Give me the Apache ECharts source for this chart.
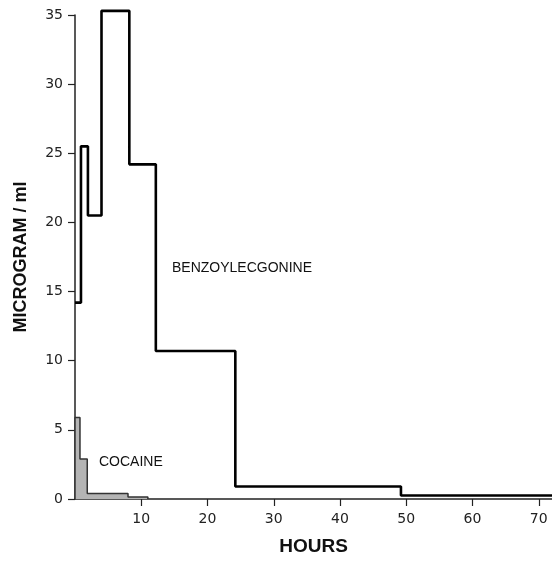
<!DOCTYPE html>
<html>
<head>
<meta charset="utf-8">
<script src="https://cdn.jsdelivr.net/npm/echarts@6/dist/echarts.min.js"></script>
<style>
  html, body { margin: 0; padding: 0; background: #fff; }
  #chart { width: 552px; height: 561px; }
</style>
</head>
<body>
<div id="chart"></div>
<script>
// step edges (hours) and levels (microgram/ml)
var benzoEdges = [0, 0.9, 1.95, 4.0, 8.2, 12.2, 24.2, 49.2, 72]
var benzoValues = [14.2, 25.5, 20.5, 35.3, 24.2, 10.7, 0.9, 0.25]
var cocaineEdges = [0, 0.75, 1.85, 8.0, 11.0]
var cocaineValues = [5.9, 2.9, 0.4, 0.15]
var xTicks = [10, 20, 30, 40, 50, 60, 70]
var yTicks = [0, 5, 10, 15, 20, 25, 30, 35]

function stepPoints(edges, values) {
  var pts = []
  for (var i = 0; i < values.length; i++) {
    pts.push([edges[i], values[i]])
    pts.push([edges[i + 1], values[i]])
  }
  pts.push([edges[edges.length - 1], 0])
  pts.unshift([0, 0])
  return pts
}

var chart = echarts.init(document.getElementById('chart'))
var tickFont = 'DejaVu Sans'
var nameFont = 'Liberation Sans'

chart.setOption({
  animation: false,
  grid: {
    left: 75,
    right: 0,
    top: 15,
    bottom: 61
  },
  xAxis: {
    type: 'value',
    min: 0,
    max: 72,
    interval: 10,
    name: 'HOURS',
    nameLocation: 'middle',
    nameGap: 38,
    nameTextStyle: {
      color: '#111',
      fontFamily: nameFont,
      fontWeight: 'bold',
      fontSize: 19
    },
    splitLine: { show: false },
    axisLine: { lineStyle: { color: '#222', width: 1.5 } },
    axisTick: {
      inside: false,
      length: 7,
      lineStyle: { color: '#222', width: 1.2 },
      customValues: xTicks
    },
    axisLabel: {
      color: '#222',
      fontFamily: tickFont,
      fontSize: 14,
      margin: 13,
      customValues: xTicks
    }
  },
  yAxis: {
    type: 'value',
    min: 0,
    max: 35,
    interval: 5,
    name: 'MICROGRAM / ml',
    nameLocation: 'middle',
    nameGap: 45,
    nameRotate: 90,
    nameTextStyle: {
      color: '#111',
      fontFamily: nameFont,
      fontWeight: 'bold',
      fontSize: 18
    },
    splitLine: { show: false },
    axisLine: { show: true, lineStyle: { color: '#222', width: 1.5 } },
    axisTick: {
      show: true,
      length: 7,
      lineStyle: { color: '#222', width: 1.2 },
      customValues: yTicks
    },
    axisLabel: {
      color: '#222',
      fontFamily: tickFont,
      fontSize: 14,
      margin: 12,
      customValues: yTicks
    }
  },
  series: [
    {
      name: 'COCAINE',
      type: 'line',
      data: stepPoints(cocaineEdges, cocaineValues),
      symbol: 'none',
      clip: false,
      lineStyle: { color: '#333', width: 1.5 },
      areaStyle: { color: '#b4b4b4', opacity: 1 },
      z: 3
    },
    {
      name: 'BENZOYLECGONINE',
      type: 'line',
      data: stepPoints(benzoEdges, benzoValues).slice(1, -1),
      symbol: 'none',
      clip: false,
      lineStyle: { color: '#000', width: 2.6 },
      z: 2
    }
  ],
  graphic: [
    {
      type: 'text',
      left: 172,
      top: 261,
      style: {
        text: 'BENZOYLECGONINE',
        fill: '#111',
        font: '14px "Liberation Sans"'
      }
    },
    {
      type: 'text',
      left: 99,
      top: 455,
      style: {
        text: 'COCAINE',
        fill: '#111',
        font: '14px "Liberation Sans"'
      }
    }
  ]
})
</script>
</body>
</html>
